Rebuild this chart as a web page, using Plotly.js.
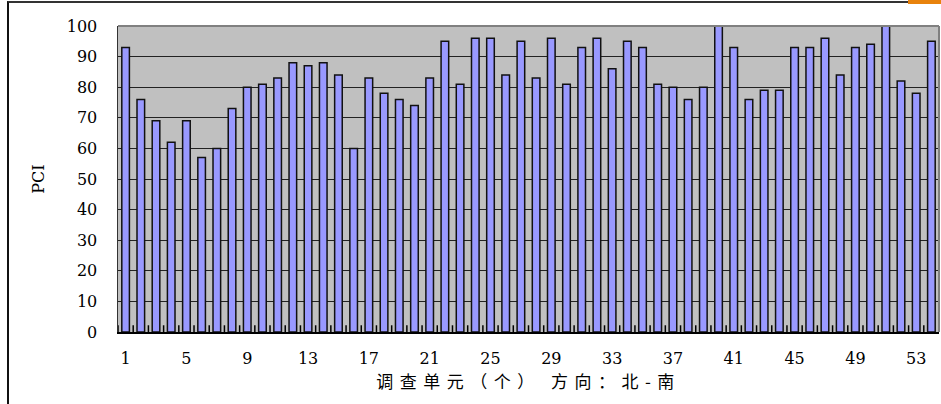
<!DOCTYPE html>
<html>
<head>
<meta charset="utf-8">
<script src="https://cdn.plot.ly/plotly-3.0.1.min.js"></script>
<style>
  html, body { margin: 0; padding: 0; background: #fff; }
  #chart { width: 941px; height: 404px; }
  #frame { position: absolute; left: 7px; top: 1px; width: 934px; height: 403px;
           border-top: 2px solid #333; border-left: 2px solid #111; pointer-events: none; box-sizing: border-box; }
  #corner { position: absolute; left: 908px; top: 0px; width: 33px; height: 4px; background: #e8820c; pointer-events: none; }
  .xtitle { letter-spacing: 6.5px; }
</style>
</head>
<body>
<div id="chart"></div>
<div id="frame"></div>
<div id="corner"></div>
<script>
const units = [];
for (let i = 1; i <= 54; i++) units.push(i);
const pci = [93, 76, 69, 62, 69, 57, 60, 73, 80, 81,
             83, 88, 87, 88, 84, 60, 83, 78, 76, 74,
             83, 95, 81, 96, 96, 84, 95, 83, 96, 81,
             93, 96, 86, 95, 93, 81, 80, 76, 80, 100,
             93, 76, 79, 79, 93, 93, 96, 84, 93, 94,
             100, 82, 78, 95];
const xTickStart = 1, xTickStep = 4;
const yTickVals = [0, 10, 20, 30, 40, 50, 60, 70, 80, 90, 100];
const boundaries = units.map(u => u - 0.5).concat([units[units.length - 1] + 0.5]);

const trace = {
  type: 'bar', x: units, y: pci, width: 0.5,
  marker: { color: '#9999ff', line: { color: '#111', width: 1.5 } },
  hoverinfo: 'x+y'
};

// category-boundary tick marks, drawn through the axes
const tickX = [], tickY = [];
boundaries.forEach(b => { tickX.push(b, b, null); tickY.push(0, 2.2, null); });
const tickTrace = {
  type: 'scatter', mode: 'lines', x: tickX, y: tickY,
  line: { color: '#000', width: 1.5 }, hoverinfo: 'skip', connectgaps: false, cliponaxis: false
};

const layout = {
  width: 941, height: 404,
  margin: { l: 118, r: 2, t: 26, b: 72 },
  paper_bgcolor: 'rgba(0,0,0,0)',
  plot_bgcolor: '#c0c0c0',
  showlegend: false,
  bargap: 0.5,
  font: { family: 'DejaVu Serif, serif', color: '#000', size: 16 },
  xaxis: {
    type: 'linear', range: [0.5, 54.5],
    tickmode: 'linear', tick0: xTickStart, dtick: xTickStep,
    ticks: '', showgrid: false, zeroline: false,
    showline: true, linecolor: '#000', linewidth: 1.5,
    ticklabelstandoff: 11,
    tickfont: { family: 'DejaVu Serif, serif', size: 16 },
    title: { text: '调查单元（个） 方向：北-南', font: { family: 'Noto Sans CJK SC, sans-serif', size: 17 }, standoff: 6 }
  },
  yaxis: {
    range: [0, 100], tickvals: yTickVals, ticks: '',
    showgrid: true, gridcolor: '#222', gridwidth: 1,
    zeroline: false, showline: true, linecolor: '#333', linewidth: 1.5,
    ticklabelstandoff: 16,
    tickfont: { family: 'DejaVu Serif, serif', size: 16 },
    title: { text: 'PCI', font: { family: 'DejaVu Serif, serif', size: 16 }, standoff: 18 }
  },
  shapes: [
    { type: 'line', xref: 'paper', yref: 'paper', x0: 0, x1: 1, y0: 1, y1: 1, line: { color: '#808080', width: 2 } },
    { type: 'line', xref: 'paper', yref: 'paper', x0: 1, x1: 1, y0: 0, y1: 1, line: { color: '#808080', width: 2 } }
  ]
};

Plotly.newPlot('chart', [trace, tickTrace], layout, { displayModeBar: false, staticPlot: true });
</script>
</body>
</html>
